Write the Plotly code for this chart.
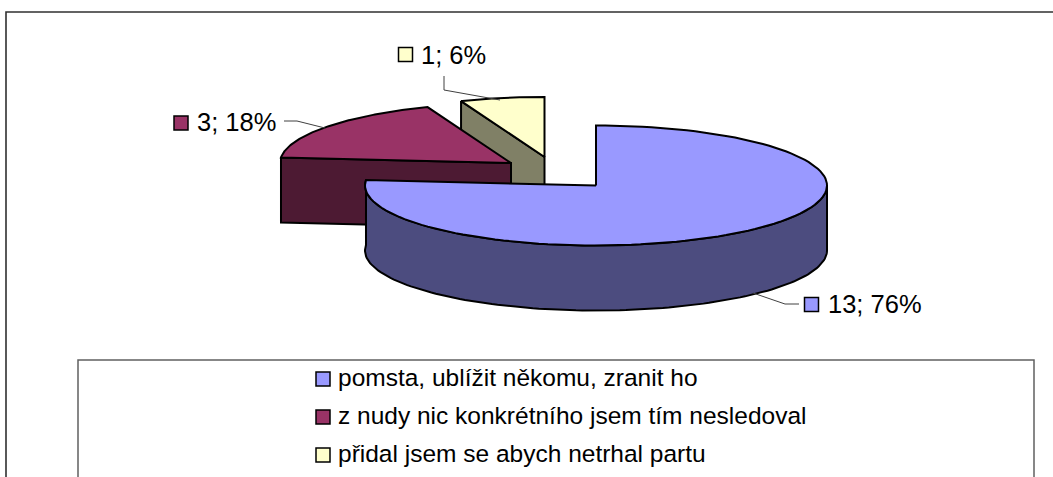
import numpy as np
import plotly.graph_objects as go

categories = ["pomsta, ublížit někomu, zranit ho",
              "z nudy nic konkrétního jsem tím nesledoval",
              "přidal jsem se abych netrhal partu"]
values = [13, 3, 1]
top_colors = ["#9999ff", "#993366", "#ffffcc"]
side_colors = ["#4c4c7f", "#4d1a33", "#808066"]
centers = [(596, 185.5), (511, 163), (544.5, 157)]
label_pos = [(828, 304), (197, 122), (421, 55)]
key_pos = [(811.5, 304.5), (181, 123), (405.5, 54.5)]
leaders = [[(753, 293), (785, 304), (799, 304)],
           [(284, 121), (297, 121), (325, 128)],
           [(444, 76), (444, 90), (500, 100)]]
legend_key_pos = [(323, 379), (323, 417), (323, 455)]
legend_text_x = 338

RX, RY, DEPTH = 231, 60, 65
W, H = 1053, 477
LW = 2
FONT = "Liberation Sans"

total = sum(values)
bounds = np.concatenate([[0], np.cumsum(values) / total * 2 * np.pi])
fig = go.Figure()


def poly(xs, ys, fill, width=LW, color="black"):
    fig.add_trace(go.Scatter(x=list(xs), y=list(ys), mode="lines", fill="toself",
                             fillcolor=fill, line=dict(color=color, width=width),
                             hoverinfo="skip", showlegend=False))


def arc(c, a, b, dy=0, n=120):
    t = np.linspace(a, b, n)
    return c[0] + RX * np.sin(t), c[1] - RY * np.cos(t) + dy


# back to front: yellow, burgundy, blue
for i in [2, 1, 0]:
    c, a, b = centers[i], bounds[i], bounds[i + 1]
    ax, ay = arc(c, a, a, n=1)
    if i in (1, 2):
        poly([ax[0], c[0], c[0], ax[0], ax[0]],
             [ay[0], c[1], c[1] + DEPTH, ay[0] + DEPTH, ay[0]], side_colors[i])
    else:
        sx, sy = arc(c, 0.5 * np.pi, b)
        lx, ly = arc(c, 0.5 * np.pi, b, dy=DEPTH)
        poly(np.r_[sx, lx[::-1], sx[0]], np.r_[sy, ly[::-1], sy[0]], side_colors[i])
    tx, ty = arc(c, a, b)
    poly(np.r_[c[0], tx, c[0]], np.r_[c[1], ty, c[1]], top_colors[i])

# leader lines
for seg in leaders:
    fig.add_trace(go.Scatter(x=[p[0] for p in seg], y=[p[1] for p in seg], mode="lines",
                             line=dict(color="#404040", width=1), hoverinfo="skip", showlegend=False))

# data-label keys and legend keys
key_x = [p[0] for p in key_pos] + [p[0] for p in legend_key_pos]
key_y = [p[1] for p in key_pos] + [p[1] for p in legend_key_pos]
fig.add_trace(go.Scatter(x=key_x, y=key_y, mode="markers", hoverinfo="skip", showlegend=False,
                         marker=dict(symbol="square", size=14, color=top_colors * 2,
                                     line=dict(color="black", width=1.5))))

ann = []
for i in range(3):
    pct = round(values[i] / total * 100)
    ann.append(dict(x=label_pos[i][0], y=label_pos[i][1], text=f"{values[i]}; {pct}%",
                    showarrow=False, xanchor="left", yanchor="middle", xshift=-2,
                    font=dict(family=FONT, size=25.5, color="black")))
    ann.append(dict(x=legend_text_x, y=legend_key_pos[i][1], text=categories[i],
                    showarrow=False, xanchor="left", yanchor="middle", xshift=-2, yshift=2,
                    font=dict(family=FONT, size=24.5, color="black")))

shapes = [
    dict(type="rect", x0=6, y0=12, x1=W + 10, y1=H + 10, line=dict(color="#303030", width=1.6)),
    dict(type="rect", x0=78, y0=360, x1=1034, y1=H + 10, line=dict(color="#606060", width=1.5)),
]
fig.update_layout(
    width=W, height=H, margin=dict(l=0, r=0, t=0, b=0), autosize=False,
    paper_bgcolor="white", plot_bgcolor="white", showlegend=False,
    xaxis=dict(range=[0, W], visible=False, fixedrange=True),
    yaxis=dict(range=[H, 0], visible=False, fixedrange=True),
    annotations=ann, shapes=shapes,
)
fig.write_html("out.html", config={"displayModeBar": False},
               default_width=f"{W}px", default_height=f"{H}px",
               full_html=True,
               post_script="document.body.style.margin='0';document.body.style.overflow='hidden';")
